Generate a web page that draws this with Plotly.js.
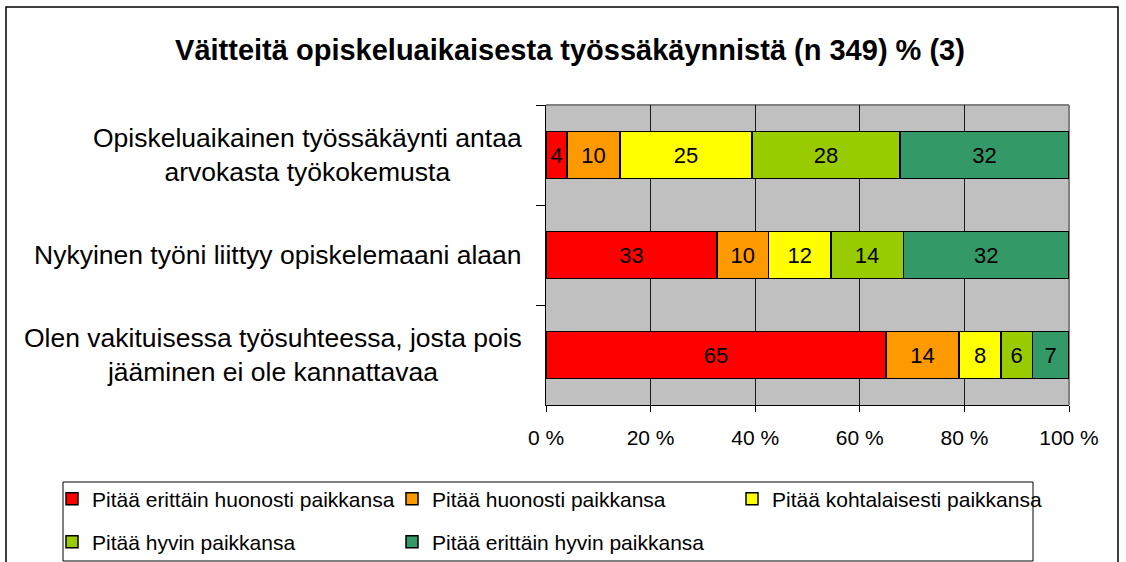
<!DOCTYPE html>
<html>
<head>
<meta charset="utf-8">
<script src="https://cdn.plot.ly/plotly-3.0.1.min.js"></script>
<style>
  html, body { margin: 0; padding: 0; background: #fff; }
  #chart { width: 1126px; height: 562px; }
</style>
</head>
<body>
<div id="chart"></div>
<script>
// ---- data ----
const categories = [
  "Opiskeluaikainen työssäkäynti antaa<br>arvokasta työkokemusta",
  "Nykyinen työni liittyy opiskelemaani alaan",
  "Olen vakituisessa työsuhteessa, josta pois<br>jääminen ei ole kannattavaa"
];
const seriesNames = [
  "Pitää erittäin huonosti paikkansa",
  "Pitää huonosti paikkansa",
  "Pitää kohtalaisesti paikkansa",
  "Pitää hyvin paikkansa",
  "Pitää erittäin hyvin paikkansa"
];
const erittainHuonosti = [4, 33, 65];
const huonosti = [10, 10, 14];
const kohtalaisesti = [25, 12, 8];
const hyvin = [28, 14, 6];
const erittainHyvin = [32, 32, 7];
const xTickVals = [0, 20, 40, 60, 80, 100];
const xTickText = ["0 %", "20 %", "40 %", "60 %", "80 %", "100 %"];
const titleText = "Väitteitä opiskeluaikaisesta työssäkäynnistä (n 349) % (3)";

const seriesValues = [erittainHuonosti, huonosti, kohtalaisesti, hyvin, erittainHyvin];
const colors = ["#FF0000", "#FF9900", "#FFFF00", "#99CC00", "#339966"];
const legendIds = ["legend", "legend", "legend", "legend2", "legend2"];

const FONT = "Liberation Sans, Arial, sans-serif";

const traces = seriesValues.map((vals, i) => ({
  type: "bar",
  orientation: "h",
  name: seriesNames[i],
  y: categories,
  x: vals,
  text: vals.map(String),
  textposition: "inside",
  insidetextanchor: "middle",
  constraintext: "none",
  textangle: 0,
  textfont: { family: FONT, size: 22, color: "#000" },
  marker: { color: colors[i], line: { color: "#000", width: 1.5 } },
  width: 0.47,
  legend: legendIds[i],
  hoverinfo: "skip"
}));

const L = 546, R = 1069, T = 105, B = 405;
const W = 1126, H = 562;
const pw = R - L, ph = B - T;
const px = v => (v - L) / pw;
const py = v => (B - v) / ph;

const annotations = categories.map(c => ({
  xref: "paper", yref: "y",
  x: 0, y: c,
  xanchor: "right", yanchor: "middle",
  xshift: -22,
  align: "center",
  text: c,
  showarrow: false,
  font: { family: FONT, size: 26.5, color: "#000" }
}));

const legendCommon = {
  orientation: "h",
  xanchor: "left",
  yanchor: "middle",
  traceorder: "normal",
  entrywidth: 295,
  bgcolor: "rgba(0,0,0,0)",
  borderwidth: 0,
  font: { family: FONT, size: 21, color: "#000" }
};

const layout = {
  width: W, height: H,
  margin: { l: L, r: W - R, t: T, b: H - B, pad: 0, autoexpand: false },
  paper_bgcolor: "#fff",
  plot_bgcolor: "#C0C0C0",
  barmode: "stack",
  barnorm: "percent",
  showlegend: true,
  font: { family: FONT, color: "#000" },
  title: {
    text: "<b>" + titleText + "</b>",
    font: { family: FONT, size: 29, color: "#000" },
    xref: "container", yref: "container",
    x: 570 / W, y: 1 - 50 / H,
    xanchor: "center", yanchor: "middle"
  },
  xaxis: {
    range: [0, 100],
    tickmode: "array",
    tickvals: xTickVals,
    ticktext: xTickText,
    showgrid: false,
    minor: { tickmode: "array", tickvals: [20, 40, 60, 80], showgrid: true, gridcolor: "#1a1a1a", gridwidth: 1, ticks: "" },
    showline: true, linecolor: "#000", linewidth: 1,
    ticks: "outside", ticklen: 6, tickcolor: "#000", tickwidth: 1,
    ticklabelstandoff: 8,
    tickfont: { family: FONT, size: 21, color: "#000" },
    zeroline: false,
    automargin: false,
    fixedrange: true
  },
  yaxis: {
    autorange: "reversed",
    type: "category",
    showgrid: false,
    showline: true, linecolor: "#000", linewidth: 1,
    ticks: "outside", tickson: "boundaries", ticklen: 9, tickcolor: "#000", tickwidth: 1,
    showticklabels: false,
    zeroline: false,
    automargin: false,
    fixedrange: true
  },
  legend: Object.assign({}, legendCommon, { x: px(52), y: py(499) }),
  legend2: Object.assign({}, legendCommon, { x: px(52), y: py(542) }),
  annotations: annotations,
  shapes: [
    // outer chart frame
    { type: "rect", xref: "paper", yref: "paper",
      x0: px(6), x1: px(1118), y0: py(600), y1: py(7),
      line: { color: "#000", width: 1.5 }, fillcolor: "rgba(0,0,0,0)", layer: "below" },
    // legend frame
    { type: "rect", xref: "paper", yref: "paper",
      x0: px(63), x1: px(1033), y0: py(561), y1: py(482),
      line: { color: "#000", width: 1 }, fillcolor: "rgba(0,0,0,0)", layer: "below" },
    // plot area top border (gray)
    { type: "line", xref: "paper", yref: "paper",
      x0: 0, x1: 1, y0: 1, y1: 1,
      line: { color: "#808080", width: 2 }, layer: "below" },
    // plot area right border (gray)
    { type: "line", xref: "paper", yref: "paper",
      x0: 1, x1: 1, y0: 0, y1: 1,
      line: { color: "#808080", width: 2 }, layer: "below" }
  ]
};

Plotly.newPlot("chart", traces, layout, { staticPlot: true, displayModeBar: false });
</script>
</body>
</html>
